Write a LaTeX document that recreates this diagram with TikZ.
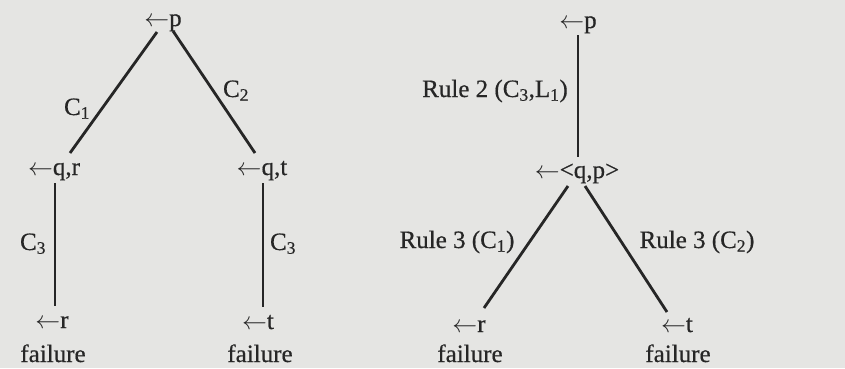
\documentclass[tikz,border=0pt]{standalone}
\usepackage{fontspec}
\setmainfont{Liberation Serif}[FakeBold=0.5]
\definecolor{paper}{RGB}{229,229,227}
\definecolor{ink}{RGB}{38,38,38}
\begin{document}
\begin{tikzpicture}[x=1pt,y=-1pt,
  lbl/.style={inner sep=0pt, font=\fontsize{25}{29}\selectfont, text=ink, anchor=base},
  edge/.style={draw=ink, line width=2.8pt}]
\fill[paper] (0,0) rectangle (845,368);
\useasboundingbox (0,0) rectangle (845,368);
% left tree
\node[lbl] (p1) at (163,26) {$\leftarrow$p};
\node[lbl] (c1) at (77,115) {C\textsubscript{1}};
\node[lbl] (c2) at (236,97) {C\textsubscript{2}};
\node[lbl] (qr) at (54,175) {$\leftarrow$q,r};
\node[lbl] (qt) at (262,175) {$\leftarrow$q,t};
\node[lbl] (c3a) at (33,250) {C\textsubscript{3}};
\node[lbl] (c3b) at (283,250) {C\textsubscript{3}};
\node[lbl] (r1) at (52,328) {$\leftarrow$r};
\node[lbl] (f1) at (53,362) {failure};
\node[lbl] (t1) at (258,329) {$\leftarrow$t};
\node[lbl] (f2) at (260,362) {failure};
\draw[edge] ([shift={(-6,6)}]p1.base) -- ([shift={(16,-22)}]qr.base);
\draw[edge] ([shift={(10,5)}]p1.base) -- ([shift={(-7,-22)}]qt.base);
\draw[edge] ([shift={(1,8)}]qr.base) -- ([shift={(3,-22)}]r1.base);
\draw[edge] ([shift={(1,8)}]qt.base) -- ([shift={(5,-22)}]t1.base);
% right tree
\node[lbl] (p2) at (578,28) {$\leftarrow$p};
\node[lbl] (rule2) at (495,97) {Rule 2 (C\textsubscript{3},L\textsubscript{1})};
\node[lbl] (qp) at (577,178) {$\leftarrow$<q,p>};
\node[lbl] (rule3a) at (457,248) {Rule 3 (C\textsubscript{1})};
\node[lbl] (rule3b) at (697,248) {Rule 3 (C\textsubscript{2})};
\node[lbl] (r2) at (469,332) {$\leftarrow$r};
\node[lbl] (t2) at (677,332) {$\leftarrow$t};
\node[lbl] (f3) at (470,362) {failure};
\node[lbl] (f4) at (678,362) {failure};
\draw[edge] ([shift={(0,7)}]p2.base) -- ([shift={(1,-21)}]qp.base);
\draw[edge] ([shift={(-9,8)}]qp.base) -- ([shift={(15,-24)}]r2.base);
\draw[edge] ([shift={(8,8)}]qp.base) -- ([shift={(-10,-20)}]t2.base);
\end{tikzpicture}
\end{document}
